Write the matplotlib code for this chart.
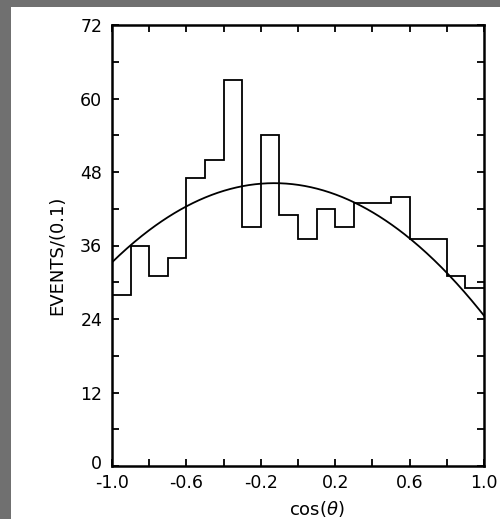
import numpy as np
import matplotlib
matplotlib.use("Agg")
import matplotlib.pyplot as plt
from matplotlib.patches import Rectangle
from matplotlib.transforms import ScaledTranslation

# histogram data (20 bins of width 0.1 in cos(theta))
bin_edges = [-1.0, -0.9, -0.8, -0.7, -0.6, -0.5, -0.4, -0.3, -0.2, -0.1, 0.0,
             0.1, 0.2, 0.3, 0.4, 0.5, 0.6, 0.7, 0.8, 0.9, 1.0]
counts = [28, 36, 31, 34, 47, 50, 63, 39, 54, 41,
          37, 42, 39, 43, 43, 44, 37, 37, 31, 29]

# fitted parabola a + b*x + c*x^2
fit_coeffs = [45.9, -4.35, -17.0]

yticks = [0, 6, 12, 18, 24, 30, 36, 42, 48, 54, 60, 66, 72]
ytick_labels = ["0", "", "12", "", "24", "", "36", "", "48", "", "60", "", "72"]
xticks = [-1.0, -0.8, -0.6, -0.4, -0.2, 0.0, 0.2, 0.4, 0.6, 0.8, 1.0]
xtick_labels = ["-1.0", "", "-0.6", "", "-0.2", "", "0.2", "", "0.6", "", "1.0"]

fig = plt.figure(figsize=(5.0, 5.19), dpi=100)
fig.patch.set_facecolor("#707070")
fig.patches.append(Rectangle((11/500, 0), 1 - 11/500, 1 - 7/519,
                             transform=fig.transFigure, facecolor="white",
                             edgecolor="none", zorder=-5))

ax = fig.add_axes([112/500, 53/519, 372/500, 441/519])
ax.set_facecolor("white")

ax.stairs(counts, bin_edges, color="black", linewidth=1.3, baseline=None)

xs = np.linspace(-1, 1, 300)
a, b, c = fit_coeffs
ax.plot(xs, a + b * xs + c * xs ** 2, color="black", linewidth=1.3)

ax.set_xlim(-1.0, 1.0)
ax.set_ylim(0, 72)
ax.set_yticks(yticks)
ax.set_yticklabels(ytick_labels)
ax.set_xticks(xticks)
ax.set_xticklabels(xtick_labels)
ax.tick_params(direction="in", length=5, width=1.3, top=True, right=True,
               labelsize=12.5, colors="black")
ax.tick_params(axis="y", pad=7)
ax.tick_params(axis="x", pad=6)
zero_lbl = ax.get_yticklabels()[0]
zero_lbl.set_transform(zero_lbl.get_transform() +
                       ScaledTranslation(0, 4/100, fig.dpi_scale_trans))
for s in ax.spines.values():
    s.set_linewidth(1.8)

fig.text(57/500, 1 - 255/519, "EVENTS/(0.1)", rotation=90, ha="center",
         va="center", fontsize=13)
fig.text(317/500, 1 - 509/519, r"cos($\theta$)", ha="center", va="center",
         fontsize=13)

fig.savefig("out.png", dpi=100, facecolor=fig.get_facecolor())
